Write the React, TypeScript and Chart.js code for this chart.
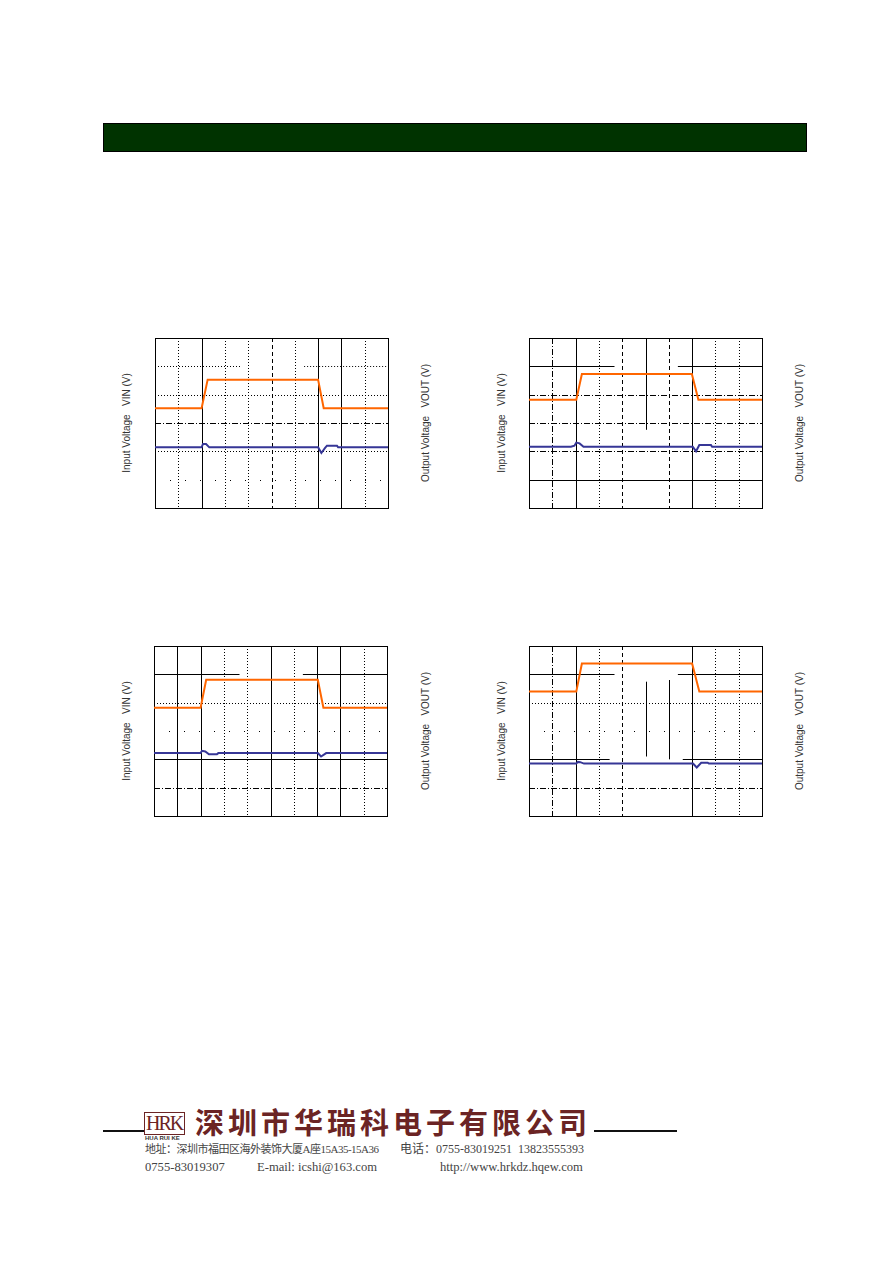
import React, { useEffect, useRef } from "react";
import { Chart, registerables } from "chart.js";

Chart.register(...registerables);

// ---------------- data (time in divisions 0..10, level in divisions 0..6) ----------------
const vin1X = [0, 2.0, 2.26, 7.0, 7.24, 10];
const vin1Y = [3.52, 3.52, 4.53, 4.53, 3.52, 3.52];
const vout1X = [0, 2.0, 2.06, 2.19, 2.33, 7.0, 7.14, 7.3, 7.38, 7.81, 7.86, 10];
const vout1Y = [2.14, 2.14, 2.26, 2.26, 2.14, 2.14, 1.94, 2.12, 2.2, 2.2, 2.14, 2.14];

const vin2X = [0, 2.03, 2.27, 6.99, 7.27, 10];
const vin2Y = [3.82, 3.82, 4.73, 4.73, 3.82, 3.82];
const vout2X = [0, 1.8, 1.95, 2.03, 2.17, 2.34, 7.03, 7.17, 7.31, 7.81, 7.86, 10];
const vout2Y = [2.16, 2.16, 2.2, 2.31, 2.28, 2.16, 2.16, 2.0, 2.22, 2.22, 2.16, 2.16];

const vin3X = [0, 2.0, 2.24, 7.03, 7.27, 10];
const vin3Y = [3.82, 3.82, 4.81, 4.81, 3.82, 3.82];
const vout3X = [0, 2.0, 2.06, 2.2, 2.36, 2.7, 2.76, 7.03, 7.17, 7.39, 10];
const vout3Y = [2.22, 2.22, 2.3, 2.28, 2.18, 2.18, 2.22, 2.22, 2.1, 2.22, 2.22];

const vin4X = [0, 2.03, 2.27, 7.0, 7.31, 10];
const vin4Y = [4.39, 4.39, 5.38, 5.38, 4.39, 4.39];
const vout4X = [0, 2.03, 2.1, 2.2, 2.36, 7.04, 7.2, 7.39, 7.67, 7.72, 10];
const vout4Y = [1.85, 1.85, 1.91, 1.9, 1.85, 1.85, 1.71, 1.88, 1.88, 1.85, 1.85];

const inputTitle = "Input Voltage   VIN (V)";
const outputTitle = "Output Voltage   VOUT (V)";

// ---------------- grid line styles (per division line) ----------------
type GL = { s: string; span?: [number, number]; gap?: [number, number] };
const DASH: Record<string, number[]> = {
  solid: [],
  dot: [1, 2],
  dash: [4, 3],
  dashdot: [6, 2, 1, 2],
  sparse: [1, 14],
};

const grid1 = {
  v: [
    { s: "dot" }, { s: "solid" }, { s: "dot" }, { s: "dot" }, { s: "dash" },
    { s: "dot" }, { s: "solid" }, { s: "solid" }, { s: "dot" },
  ] as GL[],
  h: [
    { s: "dot", gap: [3.7, 6.4] }, { s: "dot" }, { s: "dashdot" }, { s: "dot" }, { s: "sparse" },
  ] as GL[],
};
const grid2 = {
  v: [
    { s: "dashdot" }, { s: "solid" }, { s: "dot" }, { s: "dash" }, { s: "solid", span: [2.76, 6] },
    { s: "dash" }, { s: "solid" }, { s: "dot" }, { s: "dot" },
  ] as GL[],
  h: [
    { s: "solid", gap: [3.67, 6.39] }, { s: "dashdot" }, { s: "dashdot" }, { s: "dashdot" }, { s: "solid" },
  ] as GL[],
};
const grid3 = {
  v: [
    { s: "solid" }, { s: "solid" }, { s: "dot" }, { s: "dot" }, { s: "solid" },
    { s: "dot" }, { s: "solid" }, { s: "solid" }, { s: "dot" },
  ] as GL[],
  h: [
    { s: "solid", gap: [3.67, 6.39] }, { s: "dot" }, { s: "sparse" }, { s: "solid" }, { s: "dashdot" },
  ] as GL[],
};
const grid4 = {
  v: [
    { s: "dashdot" }, { s: "solid" }, { s: "dot" }, { s: "dash" }, { s: "solid", span: [2.1, 4.74] },
    { s: "solid", span: [2.0, 4.8] }, { s: "solid" }, { s: "dot" }, { s: "dot" },
  ] as GL[],
  h: [
    { s: "solid", gap: [3.67, 6.39] }, { s: "dot" }, { s: "sparse" }, { s: "solid", gap: [3.46, 6.6] }, { s: "dashdot" },
  ] as GL[],
};

const ORANGE = "#ff6600";
const BLUE = "#363696";

const scopeGrid = {
  id: "scopeGrid",
  beforeDatasetsDraw(chart: any, _args: any, opts: any) {
    const spec = opts.spec;
    if (!spec) return;
    const { ctx, chartArea: a } = chart;
    const xs = chart.scales.x;
    const ys = chart.scales.y;
    ctx.save();
    ctx.strokeStyle = "#000";
    ctx.lineWidth = 1;
    const seg = (x1: number, y1: number, x2: number, y2: number, dash: number[]) => {
      ctx.setLineDash(dash);
      ctx.beginPath();
      ctx.moveTo(x1, y1);
      ctx.lineTo(x2, y2);
      ctx.stroke();
    };
    spec.v.forEach((l: GL, i: number) => {
      const px = Math.round(xs.getPixelForValue(i + 1)) + 0.5;
      const [lo, hi] = l.span || [0, 6];
      const ranges = l.gap ? [[lo, l.gap[0]], [l.gap[1], hi]] : [[lo, hi]];
      ranges.forEach(([r0, r1]) => seg(px, ys.getPixelForValue(r1), px, ys.getPixelForValue(r0), DASH[l.s]));
    });
    spec.h.forEach((l: GL, i: number) => {
      const py = Math.round(ys.getPixelForValue(5 - i)) + 0.5;
      const [lo, hi] = l.span || [0, 10];
      const ranges = l.gap ? [[lo, l.gap[0]], [l.gap[1], hi]] : [[lo, hi]];
      ranges.forEach(([r0, r1]) => seg(xs.getPixelForValue(r0), py, xs.getPixelForValue(r1), py, DASH[l.s]));
    });
    ctx.setLineDash([]);
    ctx.strokeRect(Math.round(a.left) + 0.5, Math.round(a.top) + 0.5, Math.round(a.right - a.left), Math.round(a.bottom - a.top));
    ctx.restore();
  },
};

const PAD = 4;
const PW = 233;
const PH = 170;

function toPts(xs: number[], ys: number[]) {
  return xs.map((x, i) => ({ x, y: ys[i] }));
}

function Scope(props: {
  left: number; top: number;
  vinX: number[]; vinY: number[]; voutX: number[]; voutY: number[];
  grid: any; leftTitleX: number; rightTitleX: number;
}) {
  const ref = useRef<HTMLCanvasElement | null>(null);
  useEffect(() => {
    const c = ref.current;
    if (!c) return;
    const chart = new Chart(c, {
      type: "line",
      data: {
        datasets: [
          {
            data: toPts(props.voutX, props.voutY),
            borderColor: BLUE,
            borderWidth: 2,
            pointRadius: 0,
            tension: 0,
            fill: false,
          },
          {
            data: toPts(props.vinX, props.vinY),
            borderColor: ORANGE,
            borderWidth: 2,
            pointRadius: 0,
            tension: 0,
            fill: false,
          },
        ],
      },
      options: {
        animation: false,
        responsive: false,
        devicePixelRatio: 1,
        layout: { padding: PAD },
        scales: {
          x: { type: "linear", min: 0, max: 10, display: false },
          y: { type: "linear", min: 0, max: 6, display: false },
        },
        plugins: {
          legend: { display: false },
          tooltip: { enabled: false },
          scopeGrid: { spec: props.grid },
        } as any,
      },
      plugins: [scopeGrid],
    });
    return () => chart.destroy();
  }, []);
  const cy = props.top + PH / 2;
  const titleStyle = (cx: number): React.CSSProperties => ({
    position: "absolute",
    left: cx,
    top: cy,
    transform: "translate(-50%, -50%) rotate(-90deg)",
    whiteSpace: "pre",
    font: "10px 'Liberation Sans', Arial, sans-serif",
    color: "#333",
    lineHeight: "12px",
  });
  return (
    <>
      <canvas
        ref={ref}
        width={PW + 2 * PAD}
        height={PH + 2 * PAD}
        style={{ position: "absolute", left: props.left - PAD, top: props.top - PAD }}
      />
      <div style={titleStyle(props.leftTitleX)}>{inputTitle}</div>
      <div style={titleStyle(props.rightTitleX)}>{outputTitle}</div>
    </>
  );
}

export default function App() {
  const serif = "'Liberation Serif', 'Noto Sans CJK SC', serif";
  const foot: React.CSSProperties = {
    position: "absolute",
    font: `12px ${serif}`,
    color: "#444",
    whiteSpace: "pre",
    lineHeight: "14px",
  };
  const foot2: React.CSSProperties = { ...foot, fontSize: "12.6px" };
  return (
    <div style={{ position: "absolute", left: 0, top: 0, width: 892, height: 1263, background: "#fff", overflow: "hidden" }}>
      <div
        style={{
          position: "absolute", left: 103, top: 123, width: 704, height: 29,
          boxSizing: "border-box", background: "#003300", border: "1px solid #000",
        }}
      />
      <Scope left={155} top={338} vinX={vin1X} vinY={vin1Y} voutX={vout1X} voutY={vout1Y} grid={grid1} leftTitleX={127} rightTitleX={426} />
      <Scope left={529} top={338} vinX={vin2X} vinY={vin2Y} voutX={vout2X} voutY={vout2Y} grid={grid2} leftTitleX={502} rightTitleX={800} />
      <Scope left={154} top={646} vinX={vin3X} vinY={vin3Y} voutX={vout3X} voutY={vout3Y} grid={grid3} leftTitleX={127} rightTitleX={426} />
      <Scope left={529} top={646} vinX={vin4X} vinY={vin4Y} voutX={vout4X} voutY={vout4Y} grid={grid4} leftTitleX={502} rightTitleX={800} />

      {/* footer */}
      <div style={{ position: "absolute", left: 103, top: 1130, width: 41, height: 2, background: "#111" }} />
      <div
        style={{
          position: "absolute", left: 144, top: 1112, width: 41, height: 23, boxSizing: "border-box",
          border: "1px solid #6b2424", color: "#6b2424", font: "20px 'Liberation Serif', serif",
          lineHeight: "21px", letterSpacing: "-2px", textAlign: "left", paddingLeft: 1,
        }}
      >
        HRK
      </div>
      <div style={{ position: "absolute", left: 145, top: 1135, font: "bold 6px 'Liberation Sans', sans-serif", lineHeight: "6px", color: "#333", whiteSpace: "pre" }}>
        HUA RUI KE
      </div>
      <div
        style={{
          position: "absolute", left: 195, top: 1107, font: "bold 29px 'Noto Sans CJK SC', sans-serif",
          color: "#6b2424", letterSpacing: "4px", lineHeight: "29px", height: 29, whiteSpace: "pre",
        }}
      >
        深圳市华瑞科电子有限公司
      </div>
      <div style={{ position: "absolute", left: 594, top: 1130, width: 83, height: 2, background: "#111" }} />
      <div style={{ ...foot, left: 145, top: 1142, fontSize: "11px", letterSpacing: "-0.5px" }}>地址：深圳市福田区海外装饰大厦A座15A35-15A36</div>
      <div style={{ ...foot, left: 400, top: 1142 }}>电话：0755-83019251  13823555393</div>
      <div style={{ ...foot2, left: 145, top: 1160 }}>0755-83019307</div>
      <div style={{ ...foot2, left: 257, top: 1160 }}>E-mail: icshi@163.com</div>
      <div style={{ ...foot2, left: 440, top: 1160 }}>http://www.hrkdz.hqew.com</div>
    </div>
  );
}
